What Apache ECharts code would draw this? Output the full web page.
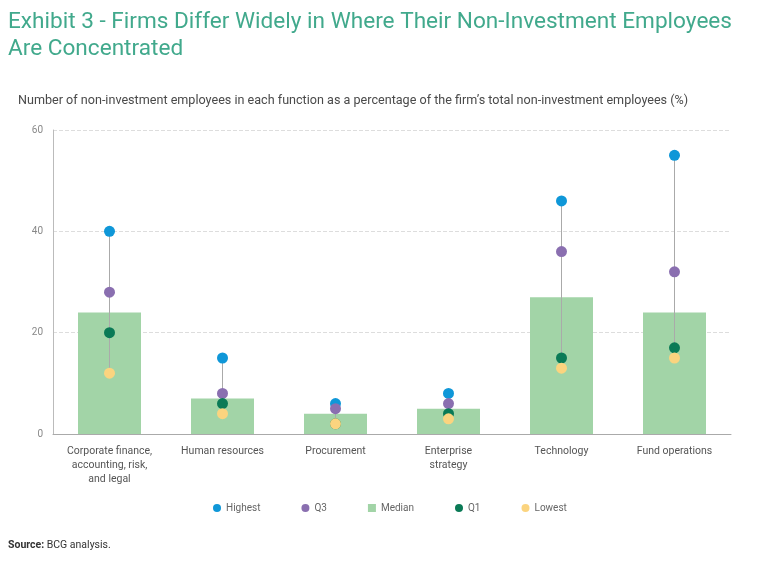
<!DOCTYPE html>
<html>
<head>
<meta charset="utf-8">
<script src="https://cdn.jsdelivr.net/npm/echarts@6/dist/echarts.min.js"></script>
<style>html,body{margin:0;padding:0;background:#fff}#c{width:768px;height:565px}</style>
</head>
<body>
<div id="c"></div>
<script>
const categories = ['Corporate finance,\naccounting, risk,\nand legal', 'Human resources', 'Procurement', 'Enterprise\nstrategy', 'Technology', 'Fund operations'];
const highest = [40, 15, 6, 8, 46, 55];
const q3 = [28, 8, 5, 6, 36, 32];
const median = [24, 7, 4, 5, 27, 24];
const q1 = [20, 6, 2, 4, 15, 17];
const lowest = [12, 4, 2, 3, 13, 15];
const yTicks = [0, 20, 40, 60];

const FONT = 'Roboto, "Liberation Sans", sans-serif';
const chart = echarts.init(document.getElementById('c'));
const dot = (name, data, color) => ({
  name, type: 'scatter', data, symbol: 'circle', symbolSize: 11,
  itemStyle: { color, opacity: 1 }, z: 5
});
chart.setOption({
  animation: false,
  textStyle: { fontFamily: FONT },
  title: [
    { text: 'Exhibit 3 - Firms Differ Widely in Where Their Non-Investment Employees\nAre Concentrated',
      left: 3, top: 4,
      textStyle: { fontFamily: FONT, fontSize: 22.6, fontWeight: 'normal', color: '#41a98c', lineHeight: 27 } },
    { text: 'Number of non-investment employees in each function as a percentage of the firm\u2019s total non-investment employees (%)',
      left: 13, top: 89,
      textStyle: { fontFamily: FONT, fontSize: 12.6, fontWeight: 'normal', color: '#4a4a4a' } },
    { text: '{b|Source:} BCG analysis.', left: 3, top: 535,
      textStyle: { fontFamily: FONT, fontSize: 10.5, fontWeight: 'normal', color: '#333',
        rich: { b: { fontFamily: FONT, fontSize: 10.5, fontWeight: 'bold', color: '#333' } } } }
  ],
  legend: {
    data: [
      { name: 'Highest', icon: 'circle' },
      { name: 'Q3', icon: 'circle' },
      { name: 'Median', icon: 'rect' },
      { name: 'Q1', icon: 'circle' },
      { name: 'Lowest', icon: 'circle' }
    ],
    left: 208, top: 498, itemWidth: 8, itemHeight: 8, itemGap: 41,
    textStyle: { fontFamily: FONT, fontSize: 10, color: '#666' }
  },
  grid: { left: 53, right: 37, top: 130, bottom: 131, containLabel: false },
  xAxis: {
    type: 'category', data: categories,
    axisLine: { lineStyle: { color: '#aaa' } },
    axisTick: { show: false },
    axisLabel: { fontFamily: FONT, fontSize: 10.5, color: '#555', lineHeight: 14, margin: 10, interval: 0 }
  },
  yAxis: {
    type: 'value', min: 0, max: 60, interval: 20,
    axisLine: { show: true, lineStyle: { color: '#bbb' } },
    axisTick: { show: false },
    axisLabel: { fontFamily: FONT, fontSize: 10, color: '#888', margin: 10,
      customValues: yTicks },
    splitLine: { lineStyle: { color: '#ddd', type: 'dashed' } }
  },
  series: [
    { name: 'Median', type: 'bar', data: median, barWidth: 63, itemStyle: { color: '#a2d4a7' }, z: 2 },
    { name: 'range', type: 'custom', z: 3,
      data: categories.map((c, i) => [i, lowest[i], highest[i]]),
      renderItem: (params, api) => {
        const a = api.coord([api.value(0), api.value(1)]);
        const b = api.coord([api.value(0), api.value(2)]);
        return { type: 'line', shape: { x1: a[0], y1: a[1], x2: b[0], y2: b[1] },
          style: { stroke: '#aaa', lineWidth: 1 } };
      }
    },
    dot('Highest', highest, '#0f97d8'),
    dot('Q3', q3, '#8a6fb0'),
    dot('Q1', q1, '#0a7a56'),
    dot('Lowest', lowest, '#fbd47f')
  ]
});
</script>
</body>
</html>
